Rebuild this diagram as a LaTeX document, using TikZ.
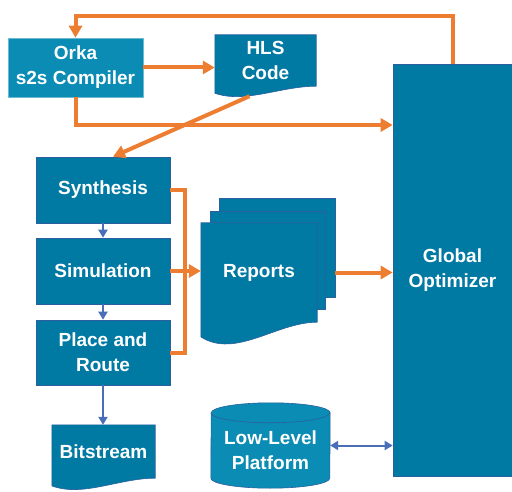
\documentclass[tikz,border=0pt]{standalone}
\usepackage{fontspec}
\setsansfont{Liberation Sans}
\usetikzlibrary{arrows.meta,calc,backgrounds}
\definecolor{boxblue}{HTML}{0079A3}
\definecolor{lightblue}{HTML}{0A8CB4}
\definecolor{edgeblue}{HTML}{2B5F9E}
\definecolor{flowred}{HTML}{ED7D31}
\definecolor{linkblue}{HTML}{4A6FB8}
% document sheet with wavy bottom, #1 node, #2 depth of the wave
\newcommand{\docsheet}[2]{%
  \fill[boxblue,draw=edgeblue,line width=0.6pt] (#1.north west) -- (#1.north east) -- (#1.south east)
    .. controls ($(#1.south east)!0.35!(#1.south west)$)
    and ($(#1.south east)!0.7!(#1.south west)+(0,-1.6*#2)$)
    .. ($(#1.south west)+(0,-0.64*#2)$) -- cycle;}
\begin{document}
\begin{tikzpicture}[x=1pt,y=1pt,
    every node/.style={font=\sffamily\bfseries\fontsize{19}{25}\selectfont,text=white,align=center,inner sep=0pt},
    stage/.style={rectangle,fill=boxblue,draw=edgeblue,line width=0.6pt,minimum width=134pt,minimum height=66pt},
    flow/.style={flowred,line width=4pt,-{Triangle[length=12pt,width=13pt]}},
    link/.style={linkblue,line width=2pt,-{Triangle[length=8pt,width=9pt]}}]
  \useasboundingbox (0,0) rectangle (512,491);
  % Tool chain
  \node[stage,fill=lightblue,draw=lightblue!60!white,minimum width=135pt,minimum height=59pt] (orka) at (75.5,423.5) {Orka\\s2s Compiler};
  \node[minimum width=101pt,minimum height=51pt] (hls) at (265.5,430.5) {HLS\\Code};
  \node[stage,minimum width=119pt,minimum height=412pt] (opt) at (452.5,221) {Global\\Optimizer};
  \node[stage] (synth) at (103,301) {Synthesis};
  \node[stage] (sim) at (103,220) {Simulation};
  \node[stage,minimum height=65pt] (pnr) at (103,138.5) {Place and\\Route};
  \node[minimum width=103pt,minimum height=53pt] (bits) at (103.5,39.5) {Bitstream};
  \node[minimum width=116pt,minimum height=99pt] (reports) at (259,218.5) {Reports};
  \node[minimum width=119pt,minimum height=75pt] (llp) at (270.5,40.5) {Low-Level\\Platform};
  % Sheets and platform drum
  \begin{scope}[on background layer]
    \node[stage,minimum width=116pt,minimum height=99pt] (rep3) at (277,243.5) {};
    \node[stage,minimum width=115pt,minimum height=98pt] (rep2) at (267.5,231) {};
    \docsheet{reports}{23}
    \docsheet{hls}{11}
    \docsheet{bits}{12}
    \fill[lightblue,draw=edgeblue,line width=0.6pt] ([yshift=10pt]llp.south west)
      arc[start angle=180,end angle=360,x radius=59.5pt,y radius=10pt]
      -- (llp.north east) arc[start angle=0,end angle=180,x radius=59.5pt,y radius=10pt] -- cycle;
    \draw[edgeblue,line width=0.6pt] (llp.north west) arc[start angle=180,end angle=360,x radius=59.5pt,y radius=10pt];
  \end{scope}
  % Orange flow
  \draw[flow] (opt.north) -- ++(0,48) -| (orka.north);
  \draw[flow] (orka.east) -- (orka.east -| hls.west);
  \draw[flow] (orka.south) |- ([yshift=145pt]opt.west);
  \draw[flow] ([xshift=-16pt,yshift=-10pt]hls.south) -- ([xshift=10pt]synth.north);
  \draw[flowred,line width=4pt] (synth.east) -- ++(15,0) |- (pnr.east);
  \draw[flow] (sim.east) -- (sim.east -| reports.west);
  \draw[flow] (reports.east -| rep3.east) -- (reports.east -| opt.west);
  % Blue links
  \draw[link] (synth) -- (sim);
  \draw[link] (sim) -- (pnr);
  \draw[link] (pnr.south) -- (pnr.south |- bits.north);
  \draw[linkblue,line width=2pt,{Triangle[length=8pt,width=9pt]}-{Triangle[length=8pt,width=9pt]}] ([yshift=5pt]llp.east) -- ([yshift=5pt]llp.east -| opt.west);
\end{tikzpicture}
\end{document}
